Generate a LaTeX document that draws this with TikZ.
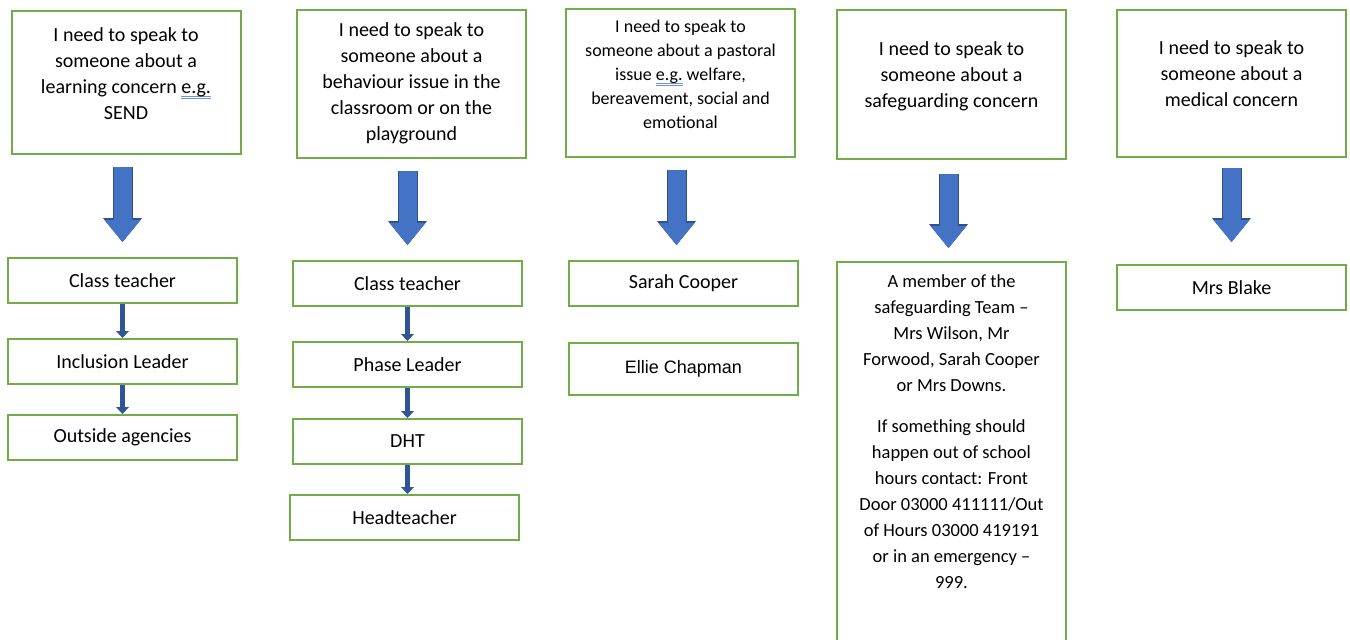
\documentclass[tikz,border=0pt]{standalone}
\usepackage{fontspec}
\setmainfont{Carlito}
\newfontfamily\arialfont{Liberation Sans}
\usetikzlibrary{positioning, fit, calc, arrows.meta}
\definecolor{boxgreen}{HTML}{70AD47}
\definecolor{arrowblue}{HTML}{4472C4}
\definecolor{arrowedge}{HTML}{2F528F}
\definecolor{linkblue}{HTML}{2F5597}
\definecolor{markblue}{HTML}{6A95DE}
\newcommand{\qfont}{\fontsize{20pt}{26pt}\selectfont}
\newcommand{\pfont}{\fontsize{18pt}{24pt}\selectfont}
\newcommand{\sfont}{\fontsize{18.5pt}{26pt}\selectfont}
\newcommand{\wordmark}[1]{\setbox0\hbox{#1}\rlap{\color{markblue}\rule[-3pt]{\wd0}{0.7pt}}\rlap{\color{markblue}\rule[-5pt]{\wd0}{0.7pt}}\box0\relax}

\tikzset{
    qbox/.style={rectangle, draw=boxgreen, line width=2pt, minimum width=229pt, inner sep=0pt},
    pbox/.style={qbox, minimum height=45pt, font=\qfont},
    bigarrow/.style={arrowblue, line width=18pt, shorten <=12pt, shorten >=15pt,
        -{Triangle[length=22pt, width=36pt, line width=0pt]},
        preaction={draw=arrowedge, line width=20pt, -{Triangle[length=24pt, width=39pt, line width=0pt]}}},
    linkarrow/.style={linkblue, line width=5pt, -{Triangle[length=7pt, width=13pt, line width=0pt]}}
}

\begin{document}
\begin{tikzpicture}[x=1pt, y=-1pt]

\clip (0,0) rectangle (1350,640);
\fill[white] (0,0) rectangle (1350,640);

% questions
\node[qbox, minimum height=143pt] (learning) at (126,82.5) {};
\node[font=\qfont] (learningT) at ([yshift=7.5pt]learning.center) {
    \begin{tabular}{c}
    I need to speak to\\
    someone about a\\
    learning concern \wordmark{e.g.}\\
    SEND
    \end{tabular}
    };
\node[qbox, minimum height=148pt] (behaviour) at (411.5,84) {};
\node[font=\qfont] (behaviourT) at ([yshift=1pt]behaviour.center) {
    \begin{tabular}{c}
    I need to speak to\\
    someone about a\\
    behaviour issue in the\\
    classroom or on the\\
    playground
    \end{tabular}
    };
\node[qbox, minimum height=148pt] (pastoral) at (680.5,83) {};
\node[font=\pfont] (pastoralT) at ([yshift=7pt]pastoral.center) {
    \begin{tabular}{c}
    I need to speak to\\
    someone about a pastoral\\
    issue \wordmark{e.g.} welfare,\\
    bereavement, social and\\
    emotional
    \end{tabular}
    };
\node[qbox, minimum height=149pt] (safeguarding) at (951.5,84.5) {};
\node[font=\qfont] (safeguardingT) at ([yshift=8pt]safeguarding.center) {
    \begin{tabular}{c}
    I need to speak to\\
    someone about a\\
    safeguarding concern
    \end{tabular}
    };
\node[qbox, minimum height=147pt] (medical) at (1231.5,83.5) {};
\node[font=\qfont] (medicalT) at ([yshift=8pt]medical.center) {
    \begin{tabular}{c}
    I need to speak to\\
    someone about a\\
    medical concern
    \end{tabular}
    };

% -------

\node[pbox] (classA) at (122.5,280.5) {Class teacher};
\node[pbox, below=34pt of classA] (inclusion) {Inclusion Leader};
\node[pbox, below=29pt of inclusion] (outside) {Outside agencies};

\node[pbox] (classB) at (407.5,283.5) {Class teacher};
\node[pbox, below=34pt of classB] (phase) {Phase Leader};
\node[pbox, below=30pt of phase] (dht) {DHT};
\node[pbox, below=29pt of dht, xshift=-3pt] (head) {Headteacher};

\node[pbox] (sarah) at (683.5,283.5) {Sarah Cooper};
\node[pbox, below=35pt of sarah, minimum height=52pt, font=\arialfont\fontsize{18pt}{22pt}\selectfont] (ellie) {Ellie Chapman};

\coordinate (teamTL) at (837,262);
\coordinate (teamBR) at (1066,660);
\node[qbox, fit=(teamTL) (teamBR)] (team) {};
\node[anchor=north, inner sep=0pt, font=\sfont] (teamT) at ([yshift=-8pt]team.north) {
    \begin{tabular}{c}
    A member of the\\
    safeguarding Team --\\
    Mrs Wilson, Mr\\
    Forwood, Sarah Cooper\\
    or Mrs Downs.\\[15pt]
    If something should\\
    happen out of school\\
    hours contact: Front\\
    Door 03000 411111/Out\\
    of Hours 03000 419191\\
    or in an emergency --\\
    999.
    \end{tabular}
    };

\node[pbox] (blake) at (1231.5,287.5) {Mrs Blake};

% -------

\draw[bigarrow] (classA.north |- learning.south) -- (classA.north);
\draw[bigarrow] (classB.north |- behaviour.south) -- (classB.north);
\draw[bigarrow] ([xshift=-7pt]sarah.north |- pastoral.south) -- ([xshift=-7pt]sarah.north);
\draw[bigarrow, shorten <=14pt, shorten >=13pt] ([xshift=-3pt]team.north |- safeguarding.south) -- ([xshift=-3pt]team.north);
\draw[bigarrow, shorten <=10pt, shorten >=22pt] (blake.north |- medical.south) -- (blake.north);

\draw[linkarrow] (inclusion.north |- classA.south) -- (inclusion.north);
\draw[linkarrow] (outside.north |- inclusion.south) -- (outside.north);
\draw[linkarrow] (phase.north |- classB.south) -- (phase.north);
\draw[linkarrow] (dht.north |- phase.south) -- (dht.north);
\draw[linkarrow] ([xshift=3pt]head.north |- dht.south) -- ([xshift=3pt]head.north);

\end{tikzpicture}
\end{document}
